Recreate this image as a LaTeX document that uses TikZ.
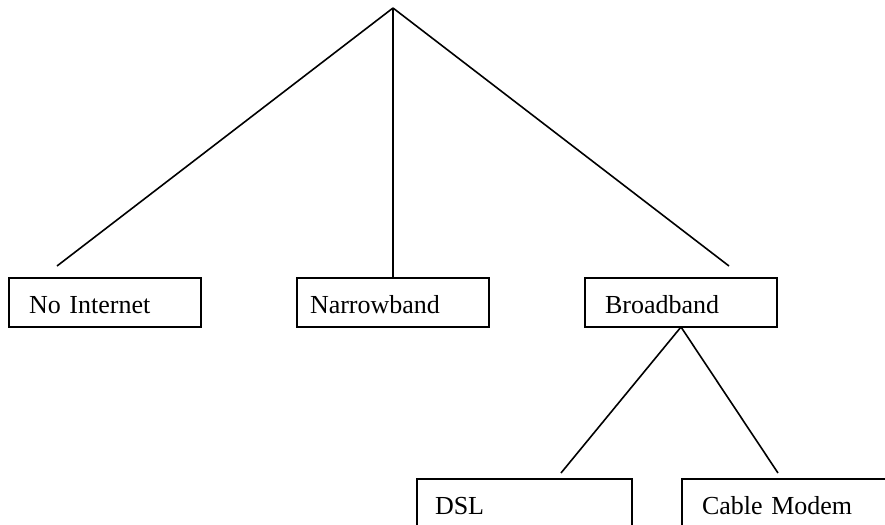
\documentclass[tikz,border=0pt]{standalone}
\usepackage{fontspec}
\setmainfont{Liberation Serif}
\usetikzlibrary{positioning}

\begin{document}
\begin{tikzpicture}[
x=0.5pt, y=-0.5pt,
line width=0.8pt,
font=\fontsize{13}{15}\selectfont,
box/.style={draw,
rectangle,
outer sep=0pt,
minimum height=24.5pt,
inner xsep=10pt,
text height=10.5pt,
text depth=0pt,
text width=#1,
align=left},
link/.style={line width=0.8pt}
]
\useasboundingbox (0,0) rectangle (885,525);
\clip (0,0) rectangle (885,525);

\coordinate (top) at (393,8);

\node[box=76pt, anchor=north west] (noint) at (9,278) {No Internet};
\node[box=83pt, inner xsep=6.5pt, right=48pt of noint] (narrow) {Narrowband};
\node[box=76pt, right=48pt of narrow] (broad) {Broadband};
\node[box=89.5pt, inner xsep=9pt, anchor=north west] (dsl) at (417,479) {DSL};
\node[box=100pt, right=25pt of dsl] (cable) {Cable Modem};

\coordinate (noint-in) at (57,266);
\coordinate (broad-in) at (729,266);
\coordinate (dsl-in) at (561,473);
\coordinate (cable-in) at (778,473);

\draw[link] (top) -- (noint-in);
\draw[link] (top) -- (narrow.north);
\draw[link] (top) -- (broad-in);
\draw[link] (broad.south) -- (dsl-in);
\draw[link] (broad.south) -- (cable-in);

\end{tikzpicture}
\end{document}
